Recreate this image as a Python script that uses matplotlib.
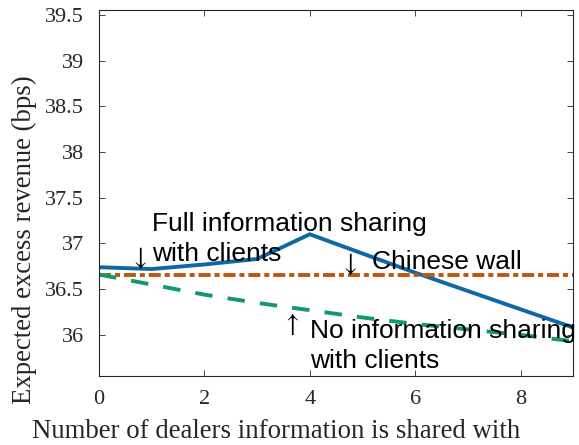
import matplotlib
matplotlib.use("Agg")
import matplotlib.pyplot as plt
import numpy as np

# number of dealers information is shared with
dealers = [0, 1, 2, 3, 4, 5, 6, 7, 8, 9]

# expected excess revenue (bps)
full_sharing = [36.74, 36.72, 36.77, 36.83, 37.10, 36.89, 36.68, 36.48, 36.28, 36.08]
chinese_wall = [36.65, 36.65, 36.65, 36.65, 36.65, 36.65, 36.65, 36.65, 36.65, 36.65]
no_sharing = [36.66, 36.55, 36.44, 36.35, 36.27, 36.19, 36.12, 36.06, 36.00, 35.93]

yticks = [36, 36.5, 37, 37.5, 38, 38.5, 39, 39.5]
ytick_labels = ["36", "36.5", "37", "37.5", "38", "38.5", "39", "39.5"]

serif = ["Liberation Serif", "DejaVu Serif"]
sans = ["Liberation Sans", "DejaVu Sans"]
plt.rcParams["mathtext.fontset"] = "stix"

fig = plt.figure(figsize=(5.79, 4.45), dpi=100)
ax = fig.add_axes([0.171, 0.155, 0.819, 0.822])

ax.plot(dealers, full_sharing, color="#0e68a3", lw=2.8, solid_joinstyle="miter")
ax.plot(dealers, chinese_wall, color="#c0560e", lw=2.8, dashes=(3.1, 1.0, 1.3, 1.0))
ax.plot(dealers, no_sharing, color="#11996e", lw=2.8, dashes=(4.5, 3.9))

ax.set_xlim(0, 9)
ax.set_ylim(35.55, 39.55)
ax.set_xticks([0, 2, 4, 6, 8])
ax.set_yticks(yticks)
ax.set_yticklabels(ytick_labels)
ax.tick_params(direction="in", top=True, right=True, length=4, width=0.6,
               labelsize=16, colors="#262626")
ax.tick_params(axis="y", pad=11)
ax.tick_params(axis="x", pad=10)
for lab in ax.get_xticklabels() + ax.get_yticklabels():
    lab.set_family(serif)
for s in ax.spines.values():
    s.set_linewidth(0.8)
    s.set_color("#262626")

# axis labels sit off-centre in the reference, so place them in figure coords
fig.text(276 / 579, 1 - 431 / 445, "Number of dealers information is shared with",
         family=serif, fontsize=19.3, color="#262626", ha="center", va="center")
fig.text(24 / 579, 1 - 240 / 445, "Expected excess revenue (bps)",
         family=serif, fontsize=19.3, color="#262626", ha="center", va="center",
         rotation=90)

# annotations
ax.text(0.75, 36.84, r"$\downarrow$", fontsize=19, ha="center", va="center")
ax.text(1.0, 37.05, "Full information sharing\nwith clients", family=sans,
        fontsize=19, ha="left", va="center", linespacing=1.3)
ax.text(4.74, 36.78, r"$\downarrow$", fontsize=19, ha="center", va="center")
ax.text(5.18, 36.8, "Chinese wall", family=sans, fontsize=19, ha="left", va="center")
ax.text(3.64, 36.12, r"$\uparrow$", fontsize=19, ha="center", va="center")
ax.text(4.0, 35.88, "No information sharing\nwith clients", family=sans,
        fontsize=19, ha="left", va="center", linespacing=1.3)

fig.savefig("out.png", dpi=100)
